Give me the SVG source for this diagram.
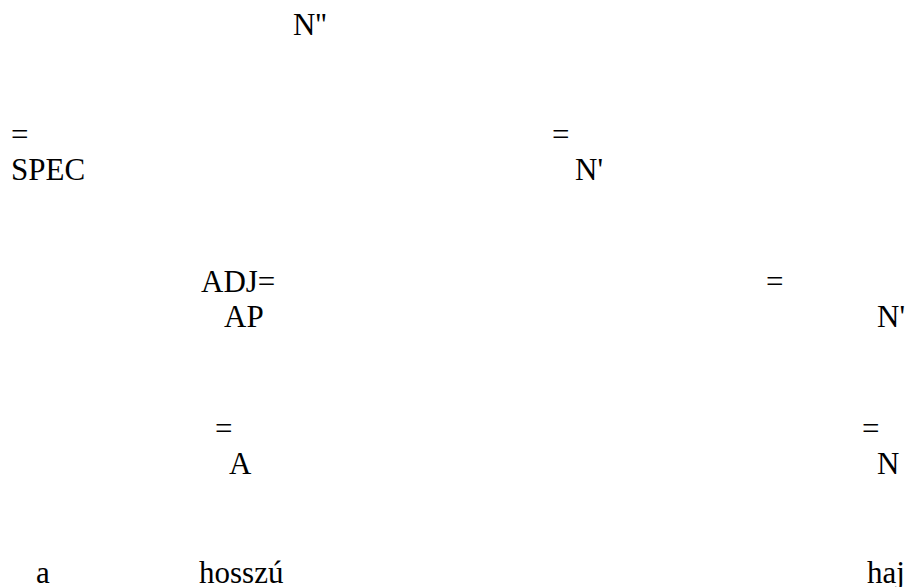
<svg xmlns="http://www.w3.org/2000/svg" width="906" height="587" viewBox="0 0 906 587">
<style>
text{font-family:"Liberation Serif","Times New Roman",Times,serif;font-size:31px;fill:#000}
</style>
<rect width="906" height="587" fill="#fff"/>
<g id="connectors"></g>
<g font-family="Liberation Serif, serif">
<g id="n-npp"><text x="293" y="35">N''</text></g>
<g id="n-spec"><text x="11" y="145">=</text><text x="11" y="180">SPEC</text></g>
<g id="n-nbar1"><text x="552" y="145">=</text><text x="575" y="180">N'</text></g>
<g id="n-ap"><text x="201" y="292">ADJ=</text><text x="224" y="327">AP</text></g>
<g id="n-nbar2"><text x="766" y="292">=</text><text x="877" y="327">N'</text></g>
<g id="n-a"><text x="215" y="439">=</text><text x="229" y="474">A</text></g>
<g id="n-n"><text x="862" y="439">=</text><text x="877" y="474">N</text></g>
<g id="leaf-a"><text x="36" y="583">a</text></g>
<g id="leaf-hosszu"><text x="199" y="583">hosszú</text></g>
<g id="leaf-haj"><text x="867" y="583">haj</text></g>
</g>
</svg>
